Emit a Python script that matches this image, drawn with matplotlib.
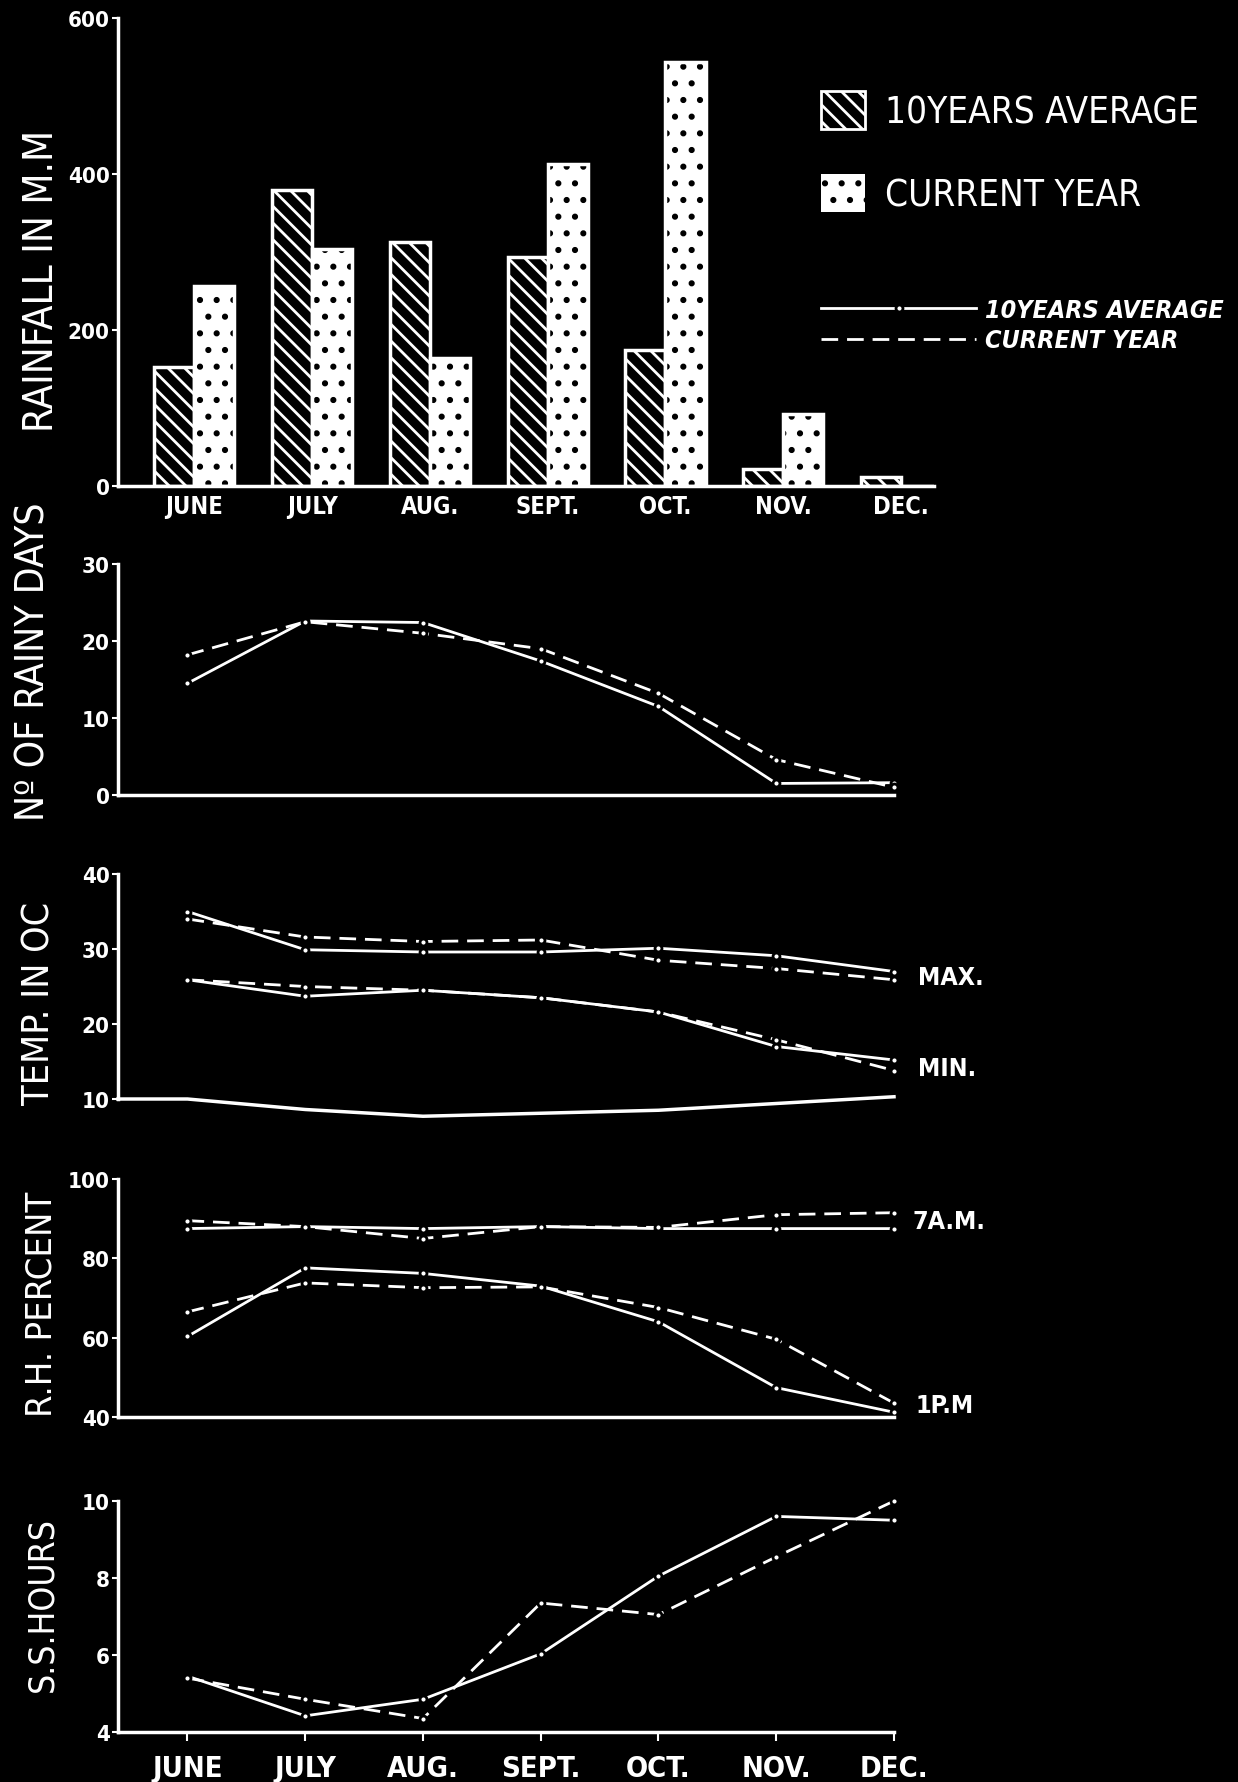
"""Monsoon-season weather summary, white-on-black: rainfall bars plus rainy days,
temperature, relative humidity and sunshine hours for June..December
(10-year average vs current year). Writes out.png."""
import matplotlib
matplotlib.use("Agg")
import matplotlib.pyplot as plt
from matplotlib import font_manager
from matplotlib.patches import Patch
from matplotlib.lines import Line2D

# ---- data ----
bar_months = ["JUNE", "JULY", "AUG.", "SEPT.", "OCT.", "NOV.", "DEC."]
line_months = ["JUNE", "JULY", "AUG.", "SEPT.", "OCT.", "NOV.", "DEC."]

rain_avg = [153, 379, 313, 294, 174, 22, 11]
rain_cur = [256, 304, 164, 413, 544, 92, 0]

rainy_avg = [14.5, 22.6, 22.4, 17.4, 11.5, 1.5, 1.6]
rainy_cur = [18.2, 22.5, 21.0, 19.0, 13.2, 4.6, 1.0]

tmax_avg = [35.0, 29.9, 29.6, 29.6, 30.1, 29.1, 27.0]
tmax_cur = [34.0, 31.6, 31.0, 31.2, 28.5, 27.4, 25.9]
tmin_avg = [25.9, 23.7, 24.5, 23.5, 21.6, 17.0, 15.2]
tmin_cur = [25.9, 25.0, 24.5, 23.5, 21.6, 17.9, 13.8]
temp_base = [10.0, 10.0, 8.6, 7.7, 8.1, 8.5, 9.4, 10.3]  # axis start, then June..Dec

rh7_avg = [87.5, 88.0, 87.5, 88.0, 87.5, 87.5, 87.5]
rh7_cur = [89.5, 88.0, 85.0, 88.0, 87.8, 91.0, 91.5]
rh1_avg = [60.3, 77.6, 76.2, 73.0, 64.0, 47.4, 41.2]
rh1_cur = [66.5, 73.8, 72.6, 72.8, 67.6, 59.6, 43.5]

ss_avg = [5.45, 4.42, 4.85, 6.03, 8.05, 9.6, 9.5]
ss_cur = [5.4, 4.85, 4.35, 7.35, 7.05, 8.55, 10.0]

# ---- style ----
W, H = 1238, 1783
names = {f.name for f in font_manager.fontManager.ttflist}
if "Liberation Sans Narrow" in names:
    plt.rcParams["font.family"] = "Liberation Sans Narrow"
else:
    plt.rcParams["font.family"] = "DejaVu Sans"
    plt.rcParams["font.stretch"] = "condensed"
plt.rcParams["hatch.linewidth"] = 2.0
FG = "white"
DASH = (6, 3.2)


def px_axes(fig, x0, x1, ytop, ybot):
    return fig.add_axes([x0 / W, 1 - ybot / H, (x1 - x0) / W, (ybot - ytop) / H])


def style(ax, yticks, ylim, bottom=True):
    ax.set_facecolor("black")
    for s in ("top", "right"):
        ax.spines[s].set_visible(False)
    ax.spines["left"].set_color(FG)
    ax.spines["left"].set_linewidth(2.5)
    ax.spines["bottom"].set_color(FG)
    ax.spines["bottom"].set_linewidth(2.5)
    ax.spines["bottom"].set_visible(bottom)
    ax.set_ylim(*ylim)
    ax.set_yticks(yticks)
    ax.tick_params(axis="y", colors=FG, length=4, width=1.5, labelsize=16, pad=2)
    for t in ax.get_yticklabels():
        t.set_fontweight("bold")
    ax.set_xticks([])


def series(ax, x, y, dashed=False):
    kw = dict(color=FG, lw=2, marker="o", ms=5, mfc=FG, mec="black", mew=2, clip_on=False)
    if dashed:
        kw["dashes"] = DASH
    ax.plot(x, y, **kw)


fig = plt.figure(figsize=(W / 100, H / 100), dpi=100, facecolor="black")

# ---- rainfall bars ----
ax = px_axes(fig, 118, 934, 19, 487)
style(ax, [0, 200, 400, 600], (0, 600))
ax.set_xlim(-0.649, 6.28)
xs = list(range(len(bar_months)))
bw = 0.34
xa = [x - bw / 2 for x in xs]
xc = [x + bw / 2 for x in xs]
ax.bar(xa, rain_avg, bw, color="black", edgecolor="white", hatch="\\\\", lw=0)
ax.bar(xa, rain_avg, bw, fill=False, edgecolor=FG, lw=2.5)
ax.bar(xc, rain_cur, bw, color="white", edgecolor="black", hatch=".", lw=0)
ax.bar(xc, rain_cur, bw, fill=False, edgecolor=FG, lw=2.5)
ax.set_xticks(xs)
ax.set_xticklabels(bar_months, fontsize=17, fontweight="bold", color=FG)
ax.tick_params(axis="x", length=0, pad=6)

bar_handles = [Patch(facecolor="black", edgecolor="white", hatch="\\\\", lw=2),
               Patch(facecolor="white", edgecolor="black", hatch=".", lw=0)]
leg = fig.legend(bar_handles, ["10YEARS AVERAGE", "CURRENT YEAR"], loc="upper left",
                 bbox_to_anchor=(821 / W, 1 - 92 / H), frameon=False, fontsize=26.5,
                 handlelength=1.2, handleheight=1.2, handletextpad=0.55,
                 labelspacing=1.2, borderpad=0, borderaxespad=0)
for t in leg.get_texts():
    t.set_color(FG)

line_handles = [Line2D([], [], color=FG, lw=2, marker="o", ms=5, mfc=FG, mec="black", mew=2),
                Line2D([], [], color=FG, lw=2, dashes=DASH)]
leg2 = fig.legend(line_handles, ["10YEARS AVERAGE", "CURRENT YEAR"], loc="upper left",
                  bbox_to_anchor=(821 / W, 1 - 299 / H), frameon=False, fontsize=18,
                  numpoints=1, handlelength=6.2, handletextpad=0.36,
                  labelspacing=0.25, borderpad=0, borderaxespad=0)
for t in leg2.get_texts():
    t.set_color(FG)
    t.set_fontweight("bold")
    t.set_fontstyle("italic")

mx = list(range(len(line_months)))

# ---- rainy days ----
ax = px_axes(fig, 118, 894, 565, 796)
style(ax, [0, 10, 20, 30], (0, 30))
ax.set_xlim(-0.59, 6.0)
series(ax, mx, rainy_avg)
series(ax, mx, rainy_cur, dashed=True)

# ---- temperature ----
ax = px_axes(fig, 118, 894, 875, 1100)
style(ax, [10, 20, 30, 40], (10, 40), bottom=False)
ax.set_xlim(-0.59, 6.0)
series(ax, mx, tmax_avg)
series(ax, mx, tmax_cur, dashed=True)
series(ax, mx, tmin_avg)
series(ax, mx, tmin_cur, dashed=True)
ax.plot([ax.get_xlim()[0]] + mx, temp_base, color=FG, lw=2.5, clip_on=False,
        solid_joinstyle="round")
ax.text(6.2, tmax_cur[-1] + 0.3, "MAX.", color=FG, fontsize=18, fontweight="bold",
        va="center", clip_on=False)
ax.text(6.2, tmin_cur[-1] + 0.3, "MIN.", color=FG, fontsize=18, fontweight="bold",
        va="center", clip_on=False)

# ---- relative humidity ----
ax = px_axes(fig, 118, 894, 1180, 1418)
style(ax, [40, 60, 80, 100], (40, 100))
ax.set_xlim(-0.59, 6.0)
series(ax, mx, rh7_avg)
series(ax, mx, rh7_cur, dashed=True)
series(ax, mx, rh1_avg)
series(ax, mx, rh1_cur, dashed=True)
ax.text(6.16, rh7_cur[-1] - 2, "7A.M.", color=FG, fontsize=18, fontweight="bold",
        va="center", clip_on=False)
ax.text(6.18, rh1_avg[-1] + 1.8, "1P.M", color=FG, fontsize=18, fontweight="bold",
        va="center", clip_on=False)

# ---- sunshine hours ----
ax = px_axes(fig, 118, 894, 1502, 1733)
style(ax, [4, 6, 8, 10], (4, 10))
ax.set_xlim(-0.59, 6.0)
series(ax, mx, ss_avg)
series(ax, mx, ss_cur, dashed=True)
ax.set_xticks(mx)
ax.set_xticklabels(line_months, fontsize=21, fontweight="bold", color=FG)
ax.tick_params(axis="x", colors=FG, direction="out", length=6.5, width=1.5, pad=9)

# ---- axis titles ----
for x, y, txt, fs in [(42, 281, "RAINFALL IN M.M", 29), (34, 662, "Nº OF RAINY DAYS", 28),
                      (40, 1003, "TEMP. IN OC", 27), (42, 1304, "R.H. PERCENT", 26),
                      (42, 1604, "S.S.HOURS", 25.5)]:
    fig.text(x / W, 1 - y / H, txt, rotation=90, ha="center", va="center",
             color=FG, fontsize=fs)

fig.savefig("out.png", dpi=100, facecolor="black")
plt.close(fig)
